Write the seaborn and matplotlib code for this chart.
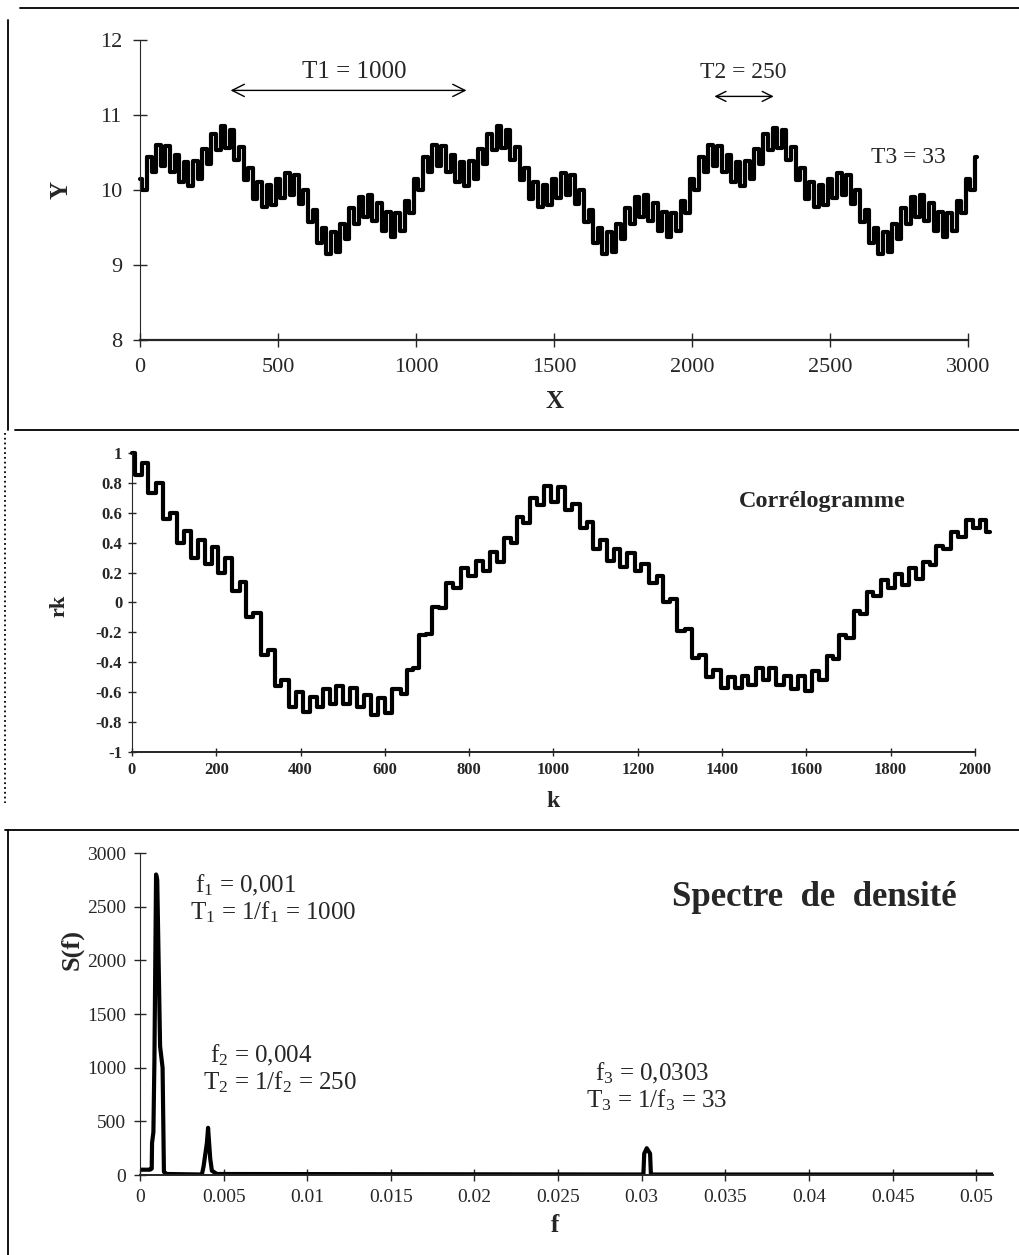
import numpy as np
import matplotlib
matplotlib.use("Agg")
import matplotlib.pyplot as plt
import seaborn as sns
from matplotlib.lines import Line2D

# --- Data ---
# Series Y: one level every ~16.7 units of X (half of the T3 = 33 ripple)
y_step = 1000 / 60
y_vals = [
    10.15, 10.00, 10.44, 10.24, 10.60, 10.32, 10.59, 10.24, 10.47, 10.11,
    10.37, 10.06, 10.39, 10.15, 10.55, 10.35, 10.75, 10.53, 10.86, 10.56,
    10.80, 10.40, 10.57, 10.13, 10.30, 9.88, 10.11, 9.77, 10.07, 9.80,
    10.15, 9.90, 10.23, 9.93, 10.20, 9.82, 10.00, 9.57, 9.73, 9.30,
    9.50, 9.15, 9.44, 9.18, 9.55, 9.35, 9.76, 9.55, 9.91, 9.64,
    9.93, 9.59, 9.83, 9.46, 9.71, 9.38, 9.70, 9.46, 9.86, 9.70,
    10.15, 10.00, 10.44, 10.24, 10.60, 10.32, 10.59, 10.24, 10.47, 10.11,
    10.37, 10.06, 10.39, 10.15, 10.55, 10.35, 10.75, 10.53, 10.86, 10.56,
    10.80, 10.40, 10.57, 10.13, 10.30, 9.88, 10.11, 9.77, 10.07, 9.80,
    10.15, 9.90, 10.23, 9.93, 10.20, 9.82, 10.00, 9.57, 9.73, 9.30,
    9.50, 9.15, 9.44, 9.18, 9.55, 9.35, 9.76, 9.55, 9.91, 9.64,
    9.93, 9.59, 9.83, 9.46, 9.71, 9.38, 9.70, 9.46, 9.86, 9.70,
    10.15, 10.00, 10.44, 10.24, 10.60, 10.32, 10.59, 10.24, 10.47, 10.11,
    10.37, 10.06, 10.39, 10.15, 10.55, 10.35, 10.75, 10.53, 10.83, 10.56,
    10.80, 10.40, 10.57, 10.13, 10.30, 9.88, 10.11, 9.77, 10.07, 9.80,
    10.15, 9.90, 10.23, 9.93, 10.20, 9.82, 10.00, 9.57, 9.73, 9.30,
    9.50, 9.15, 9.44, 9.18, 9.55, 9.35, 9.76, 9.55, 9.91, 9.64,
    9.93, 9.59, 9.83, 9.46, 9.71, 9.38, 9.70, 9.46, 9.86, 9.70,
    10.15, 10.00, 10.44,
]
y_x = np.arange(len(y_vals)) * y_step

# Correlogram rk (lag k)
k_vals = [
    0, 15, 31, 47, 66, 82, 98, 114, 133, 145, 166, 181, 197, 213, 228, 249,
    263, 280, 296, 315, 332, 347, 362, 382, 398, 415, 430, 446, 462, 477,
    493, 509, 525, 541, 560, 576, 592, 607, 628, 647, 659, 675, 688, 707,
    719, 738, 754, 770, 790, 806, 825, 840, 861, 873, 892, 908, 920, 936,
    952, 968, 987, 1003, 1020, 1035, 1055, 1070, 1087, 1102, 1118, 1134,
    1153, 1165, 1186, 1200, 1217, 1237, 1252, 1268, 1283, 1303, 1319, 1337,
    1352, 1371, 1387, 1407, 1423, 1439, 1454, 1470, 1490, 1506, 1518, 1538,
    1554, 1573, 1589, 1605, 1621, 1640, 1656, 1672, 1684, 1704, 1720, 1735,
    1751, 1767, 1786, 1802, 1818, 1834, 1853, 1869, 1885, 1900, 1917, 1932,
    1952, 1968, 1988, 2003, 2019, 2035,
]
rk_vals = [
    1.00, 0.85, 0.93, 0.73, 0.80, 0.56, 0.60, 0.40, 0.48, 0.30, 0.42, 0.26,
    0.37, 0.20, 0.30, 0.08, 0.14, -0.10, -0.07, -0.35, -0.32, -0.56, -0.52,
    -0.70, -0.60, -0.73, -0.63, -0.70, -0.58, -0.68, -0.56, -0.68, -0.57,
    -0.70, -0.62, -0.75, -0.64, -0.74, -0.58, -0.61, -0.45, -0.44, -0.22,
    -0.21, -0.03, -0.04, 0.13, 0.10, 0.23, 0.18, 0.28, 0.21, 0.34, 0.27,
    0.43, 0.40, 0.57, 0.53, 0.70, 0.65, 0.78, 0.67, 0.77, 0.62, 0.66, 0.50,
    0.54, 0.36, 0.42, 0.28, 0.36, 0.24, 0.33, 0.21, 0.26, 0.13, 0.18, 0.00,
    0.02, -0.19, -0.18, -0.37, -0.35, -0.50, -0.45, -0.57, -0.50, -0.57,
    -0.49, -0.55, -0.44, -0.52, -0.44, -0.55, -0.49, -0.58, -0.49, -0.59,
    -0.46, -0.52, -0.36, -0.38, -0.22, -0.24, -0.06, -0.08, 0.07, 0.04,
    0.15, 0.10, 0.19, 0.12, 0.23, 0.16, 0.27, 0.25, 0.38, 0.36, 0.47, 0.44,
    0.55, 0.50, 0.55, 0.47,
]

# Density spectrum S(f)
f_vals = [0.0, 0.0006, 0.0007, 0.00072, 0.0008, 0.00086, 0.00096, 0.00103,
          0.0012, 0.00135, 0.00143, 0.0016, 0.0037, 0.0038, 0.0040, 0.00407,
          0.0042, 0.0043, 0.0046, 0.0301, 0.03015, 0.0303, 0.0305, 0.03055,
          0.0510]
s_vals = [50, 50, 60, 300, 400, 1050, 2800, 2750, 1200, 1000, 30, 10, 5, 80,
          300, 440, 150, 40, 10, 5, 200, 250, 200, 5, 5]

# --- Style ---
sns.set_style("ticks")
plt.rcParams["font.family"] = ["Liberation Serif", "DejaVu Serif"]
plt.rcParams["mathtext.fontset"] = "custom"
plt.rcParams["mathtext.rm"] = "Liberation Serif"
plt.rcParams["mathtext.it"] = "Liberation Serif"

fig = plt.figure(figsize=(10.19, 12.55), dpi=100)

ax1 = fig.add_axes([0.1374, 0.729, 0.8126, 0.239])
ax2 = fig.add_axes([0.1295, 0.4008, 0.8273, 0.2383])
ax3 = fig.add_axes([0.1374, 0.0637, 0.837, 0.2566])

# --- 1. Series ---
sns.lineplot(x=y_x, y=y_vals, ax=ax1, color="black", lw=3.0,
             drawstyle="steps-mid", estimator=None, clip_on=False)
ax1.set_xlim(0, 3000)
ax1.set_ylim(8, 12)
ax1.set_xticks(range(0, 3001, 500))
ax1.set_yticks([8, 9, 10, 11, 12])
ax1.tick_params(direction="inout", length=10, width=1, labelsize=16, pad=8)
ax1.set_xlabel("X", fontsize=18, fontweight="bold")
ax1.set_ylabel("Y", fontsize=18, fontweight="bold")
ax1.xaxis.set_label_coords(0.50, -0.165)
ax1.yaxis.set_label_coords(-0.082, 0.5)
ax1.annotate("", xy=(318, 11.33), xytext=(1193, 11.33),
             arrowprops=dict(arrowstyle="<->", lw=1, color="black", mutation_scale=22))
ax1.text(777, 11.57, "T1 = 1000", fontsize=18, ha="center", va="center")
ax1.annotate("", xy=(2071, 11.25), xytext=(2306, 11.25),
             arrowprops=dict(arrowstyle="<->", lw=1, color="black", mutation_scale=18))
ax1.text(2186, 11.57, "T2 = 250", fontsize=17, ha="center", va="center")
ax1.text(2783, 10.44, "T3 = 33", fontsize=17, ha="center", va="center")
ax1.spines["bottom"].set_linewidth(1.6)

# --- 2. Correlogram ---
sns.lineplot(x=k_vals, y=rk_vals, ax=ax2, color="black", lw=3.0,
             drawstyle="steps-mid", estimator=None, clip_on=False)
ax2.set_xlim(0, 2000)
ax2.set_ylim(-1, 1)
ax2.set_xticks(range(0, 2001, 200))
ax2.set_yticks(np.round(np.arange(-1, 1.01, 0.2), 1))
ax2.set_yticklabels(["-1", "-0.8", "-0.6", "-0.4", "-0.2", "0",
                     "0.2", "0.4", "0.6", "0.8", "1"], fontweight="bold")
ax2.set_xticklabels([str(v) for v in range(0, 2001, 200)], fontweight="bold")
ax2.tick_params(direction="inout", length=6, width=1, labelsize=12, pad=4)
ax2.set_xlabel("k", fontsize=17, fontweight="bold")
ax2.set_ylabel("rk", fontsize=16, fontweight="bold")
ax2.xaxis.set_label_coords(0.50, -0.13)
ax2.yaxis.set_label_coords(-0.074, 0.49)
ax2.text(0.8185, 0.839, "Corrélogramme", transform=ax2.transAxes,
         fontsize=17.5, fontweight="bold", ha="center", va="center")
ax2.spines["bottom"].set_linewidth(1.4)

# --- 3. Spectrum ---
sns.lineplot(x=f_vals, y=s_vals, ax=ax3, color="black", lw=3.0,
             estimator=None)
ax3.set_xlim(0, 0.051)
ax3.set_ylim(0, 3000)
xt = [0, 0.005, 0.01, 0.015, 0.02, 0.025, 0.03, 0.035, 0.04, 0.045, 0.05]
ax3.set_xticks(xt)
ax3.set_xticklabels(["0", "0.005", "0.01", "0.015", "0.02", "0.025", "0.03",
                     "0.035", "0.04", "0.045", "0.05"])
ax3.set_yticks(range(0, 3001, 500))
ax3.tick_params(direction="inout", length=8, width=1, labelsize=14, pad=6)
ax3.set_xlabel("f", fontsize=18, fontweight="bold")
ax3.set_ylabel("S(f)", fontsize=19, fontweight="bold")
ax3.xaxis.set_label_coords(0.487, -0.12)
ax3.yaxis.set_label_coords(-0.066, 0.70)
ax3.text(0.0645, 0.90, r"f$_1$ = 0,001", transform=ax3.transAxes,
         fontsize=18, va="center")
ax3.text(0.0586, 0.817, r"T$_1$ = 1/f$_1$ = 1000", transform=ax3.transAxes,
         fontsize=18, va="center")
ax3.text(0.082, 0.373, r"f$_2$ = 0,004", transform=ax3.transAxes,
         fontsize=18, va="center")
ax3.text(0.074, 0.289, r"T$_2$ = 1/f$_2$ = 250", transform=ax3.transAxes,
         fontsize=18, va="center")
ax3.text(0.533, 0.317, r"f$_3$ = 0,0303", transform=ax3.transAxes,
         fontsize=18, va="center")
ax3.text(0.523, 0.233, r"T$_3$ = 1/f$_3$ = 33", transform=ax3.transAxes,
         fontsize=18, va="center")
ax3.text(0.791, 0.863, "Spectre  de  densité", transform=ax3.transAxes,
         fontsize=25, fontweight="bold", ha="center", va="center")
ax3.spines["bottom"].set_linewidth(1.4)

for ax in (ax1, ax2, ax3):
    sns.despine(ax=ax)

# --- Panel frames ---
frame = [
    ([0.02, 1.0], [0.9936, 0.9936], "-"),
    ([0.008, 0.008], [0.984, 0.657], "-"),
    ([0.015, 1.0], [0.657, 0.657], "-"),
    ([0.005, 0.005], [0.655, 0.36], ":"),
    ([0.005, 1.0], [0.339, 0.339], "-"),
    ([0.008, 0.008], [0.339, 0.0], "-"),
]
for xs, ys, ls in frame:
    fig.add_artist(Line2D(xs, ys, transform=fig.transFigure, color="black",
                          lw=1.3, ls=ls))

fig.savefig("out.png", dpi=100)
